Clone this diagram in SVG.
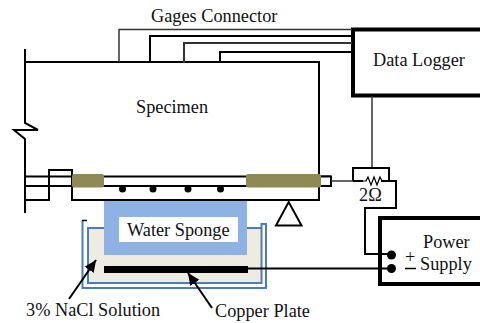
<svg xmlns="http://www.w3.org/2000/svg" width="480" height="323" viewBox="0 0 480 323">
<style>
text{font-family:"Liberation Serif","Times New Roman",serif;fill:#111;font-size:18.300px}
.w{fill:none;stroke:#000;stroke-width:2}
.t{fill:none;stroke:#000;stroke-width:2}
.g{fill:none;stroke:#333;stroke-width:1.500}
.b{fill:none;stroke:#4a7dbd;stroke-width:2}
.p{fill:#8f8a55}
.d{fill:#000}
</style>
<defs><marker id="a" markerUnits="userSpaceOnUse" markerWidth="14" markerHeight="12" refX="12" refY="6" orient="auto"><path d="M0 0.500L12 6L0 11.500Z" fill="#000"/></marker></defs>
<rect width="480" height="323" fill="#fff"/>
<g id="tank">
<rect x="88" y="228" width="174" height="55" fill="#eeebe0"/>
<path class="b" d="M82.500 220V288H266V224H261.500V283H88V228H104M247 228H261.500"/>
<path d="M82 220.500H87" stroke="#000" stroke-width="1.500"/>
</g>
<g id="sponge">
<rect x="104" y="200" width="143" height="55" fill="#8db2e3"/>
<rect x="119" y="217" width="119" height="25" fill="#fff"/>
<text x="127" y="236">Water Sponge</text>
</g>
<g id="copper-plate"><rect x="104" y="266" width="144" height="7" fill="#000"/></g>
<g id="specimen">
<path class="t" d="M25 62H319V200H72V170H49V200H25M25 176.500H330V186H25"/>
<path class="w" d="M25 49V123L38 130H14L25 139V213"/>
<path d="M319 176.500H331V186H319" fill="#fff" stroke="#000" stroke-width="2"/>
<rect class="p" x="72" y="174" width="32" height="13.500" rx="2"/>
<rect class="p" x="246" y="174" width="75" height="13.500" rx="2"/>
<circle class="d" cx="122.500" cy="189" r="3.500"/><circle class="d" cx="153" cy="189" r="3.500"/><circle class="d" cx="188" cy="189" r="3.500"/><circle class="d" cx="220.500" cy="189" r="3.500"/>
<text x="136" y="113">Specimen</text>
</g>
<g id="support"><path d="M276 225.500H301.500L288.700 202Z" fill="#fff" stroke="#000" stroke-width="2"/></g>
<g id="data-logger">
<rect x="353" y="29.500" width="140" height="66" fill="#fff" stroke="#000" stroke-width="4"/>
<text x="373" y="66">Data Logger</text>
</g>
<g id="power-supply">
<rect x="380" y="218" width="110" height="66" fill="#fff" stroke="#000" stroke-width="4"/>
<text x="423" y="248">Power</text>
<text x="420" y="270">Supply</text>
<text x="405" y="263">+</text>
<path d="M405 268.500H416" stroke="#000" stroke-width="1.500"/>
<circle class="d" cx="391.500" cy="255" r="4.500"/><circle class="d" cx="391.500" cy="268.500" r="4.500"/>
</g>
<g id="resistor">
<path d="M363 181L366 181L368 177L371 185L374 177L377 185L380 177L382 181" fill="none" stroke="#000" stroke-width="1.200"/>
<text x="359" y="201">2Ω</text>
</g>
<g id="connectors">
<path class="g" d="M119 62V29.500H352"/>
<path class="w" d="M150 62V36H352"/>
<path class="g" style="stroke-width:2" d="M184 63V43H352"/>
<path class="w" d="M220 63V52H352"/>
<path class="g" d="M372 96V168"/>
<path class="t" d="M353 181V168H389V181"/>
<path class="g" d="M331 181H353"/>
<path class="t" d="M353 181H363M381 181H396V208H365V254H391"/>
<path class="t" d="M248 268.500H391"/>
<path class="t" marker-end="url(#a)" d="M69 299L96 260"/>
<path class="t" marker-end="url(#a)" d="M212 308L188 273"/>
</g>
<g id="labels">
<text x="151" y="22">Gages Connector</text>
<text x="26" y="316">3% NaCl Solution</text>
<text x="215" y="317">Copper Plate</text>
</g>
</svg>
